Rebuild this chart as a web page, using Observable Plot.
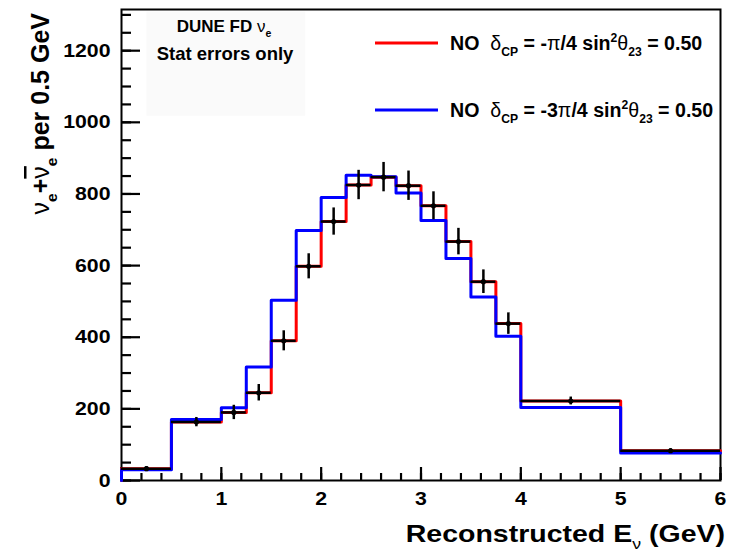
<!DOCTYPE html>
<html><head><meta charset="utf-8">
<script src="https://cdn.jsdelivr.net/npm/d3@7"></script>
<script src="https://cdn.jsdelivr.net/npm/@observablehq/plot@0.6"></script>
<style>
body{margin:0;background:#fff;overflow:hidden;}
#chart svg{display:block;}
</style>
</head><body><div id="chart"></div>
<script>
// ---- data ----
const binEdges   = [0, 0.5, 1, 1.25, 1.5, 1.75, 2, 2.25, 2.5, 2.75, 3, 3.25, 3.5, 3.75, 4, 5, 6];
const dataValues = [33, 163, 190, 245, 390, 598, 723, 825, 847, 823, 767, 667, 555, 438, 222, 83];
const statErrors = [6, 13, 20, 23, 28, 35, 38, 41, 41, 41, 39, 37, 33, 30, 11, 6];
const redValues  = [33, 163, 190, 245, 390, 598, 723, 825, 847, 823, 767, 667, 555, 438, 222, 83];
const blueValues = [30, 170, 203, 317, 503, 698, 790, 852, 848, 803, 726, 620, 512, 403, 204, 77];
const xMajorTicks = [0, 1, 2, 3, 4, 5, 6];
const yMajorTicks = [0, 200, 400, 600, 800, 1000, 1200];
const xMinorTicks = d3.range(0, 6.0001, 0.2);
const yMinorTicks = d3.range(0, 1301, 50);

const bins = dataValues.map((v, i) => ({
  lo: binEdges[i], hi: binEdges[i + 1], mid: (binEdges[i] + binEdges[i + 1]) / 2, v, err: statErrors[i]
}));
function steps(values) {
  const pts = [{x: binEdges[0], y: 0}];
  values.forEach((v, i) => pts.push({x: binEdges[i], y: v}));
  pts.push({x: binEdges[binEdges.length - 1], y: values[values.length - 1]});
  return pts;
}

const W = 734, H = 552, ML = 121, MR = 14, MT = 9, MB = 72;
const PW = W - ML - MR, PH = H - MT - MB;
const FONT = "Liberation Sans, Arial, sans-serif";
const plot = Plot.plot({
  width: W, height: H,
  marginLeft: ML, marginRight: MR, marginTop: MT, marginBottom: MB,
  style: {fontFamily: FONT},
  x: {domain: [0, 6]},
  y: {domain: [0, 1315]},
  marks: [
    Plot.rect([0], {x1: 0.255, x2: 1.845, y1: 1017, y2: 1308, fill: "#fafafa"}),
    Plot.frame({stroke: "black", strokeWidth: 2}),
    // inward ticks: short rules from the axes
    Plot.ruleX(xMinorTicks, {x: d => d, insetTop: PH - 7, stroke: "black", strokeWidth: 2.2}),
    Plot.ruleX(xMajorTicks, {x: d => d, insetTop: PH - 13, stroke: "black", strokeWidth: 2.2}),
    Plot.ruleY(yMinorTicks, {y: d => d, insetRight: PW - 10, stroke: "black", strokeWidth: 2.2}),
    Plot.ruleY(yMajorTicks, {y: d => d, insetRight: PW - 19, stroke: "black", strokeWidth: 2.2}),
    // tick labels
    Plot.axisX(xMajorTicks, {tickSize: 0, tickPadding: 11, fontSize: 19, fontWeight: "bold", fill: "black", tickFormat: d => String(d), label: null}),
    Plot.axisY(yMajorTicks, {tickSize: 0, tickPadding: 11, fontSize: 19, fontWeight: "bold", fill: "black", tickFormat: d => String(d), label: null}),
    // histograms and data
    Plot.line(steps(redValues), {x: "x", y: "y", curve: "step-after", stroke: "#ff0000", strokeWidth: 3}),
    Plot.line(steps(blueValues), {x: "x", y: "y", curve: "step-after", stroke: "#0000ff", strokeWidth: 3}),
    Plot.ruleY(bins, {y: "v", x1: "lo", x2: "hi", stroke: "black", strokeWidth: 2.5}),
    Plot.ruleX(bins, {x: "mid", y1: d => d.v - d.err, y2: d => d.v + d.err, stroke: "black", strokeWidth: 2.5}),
    Plot.dot(bins, {x: "mid", y: "v", r: 2.6, fill: "black"})
  ]
});
document.getElementById("chart").appendChild(plot);
const svg = d3.select(plot);

// widen the tick labels horizontally like the reference
svg.selectAll('g[aria-label$="tick label"] text').each(function () {
  const t = this.getAttribute("transform") || "";
  this.setAttribute("transform", t + " scale(1.12,1)");
});

// ---- rich text (titles and legend) ----
function rich(x, y, parts, {size = 18, anchor = "start", transform = null} = {}) {
  const t = svg.append("text").attr("x", x).attr("y", y)
    .attr("text-anchor", anchor).attr("font-size", size)
    .attr("font-family", FONT).attr("fill", "black");
  if (transform) t.attr("transform", transform);
  parts.forEach(p => {
    const s = t.append("tspan").text(p.t)
      .attr("font-weight", p.normal ? "normal" : "bold")
      .attr("font-size", p.sub || p.sup ? size * 0.62 : size);
    if (p.deco) s.style("text-decoration", p.deco);
    if (p.sub) s.attr("dy", size * 0.3);
    if (p.sup) s.attr("dy", -size * 0.4);
    if (p.back) s.attr("dy", p.back * size);
  });
  return t;
}
rich(0, 0, [
  {t: "ν", normal: true}, {t: "e", sub: true}, {t: "+", back: -0.3},
  {t: "ν", normal: true, deco: "overline"}, {t: "e", sub: true},
  {t: " per 0.5 GeV", back: -0.3}
], {size: 25, anchor: "end", transform: "translate(49,13) rotate(-90)"});
rich(0, 0, [
  {t: "Reconstructed E"}, {t: "ν", sub: true, normal: true}, {t: " (GeV)", back: -0.3}
], {size: 23, anchor: "end", transform: "translate(725,542) scale(1.24,1)"});
rich(224, 32, [{t: "DUNE FD "}, {t: "ν", normal: true}, {t: "e", sub: true}], {size: 17, anchor: "middle"});
rich(225, 60, [{t: "Stat errors only"}], {size: 18.5, anchor: "middle"});
const legend = [
  {color: "#ff0000", y: 43, num: "-"},
  {color: "#0000ff", y: 110, num: "-3"}
];
legend.forEach(L => {
  svg.append("line").attr("x1", 375).attr("x2", 438).attr("y1", L.y).attr("y2", L.y)
    .attr("stroke", L.color).attr("stroke-width", 3);
  rich(450, L.y + 7, [
    {t: "NO  "}, {t: "δ", normal: true}, {t: "CP", sub: true}, {t: " = " + L.num, back: -0.3},
    {t: "π", normal: true}, {t: "/4 sin"}, {t: "2", sup: true}, {t: "θ", normal: true, back: 0.4},
    {t: "23", sub: true}, {t: " = 0.50", back: -0.3}
  ], {size: 19.6});
});
</script>
</body></html>
